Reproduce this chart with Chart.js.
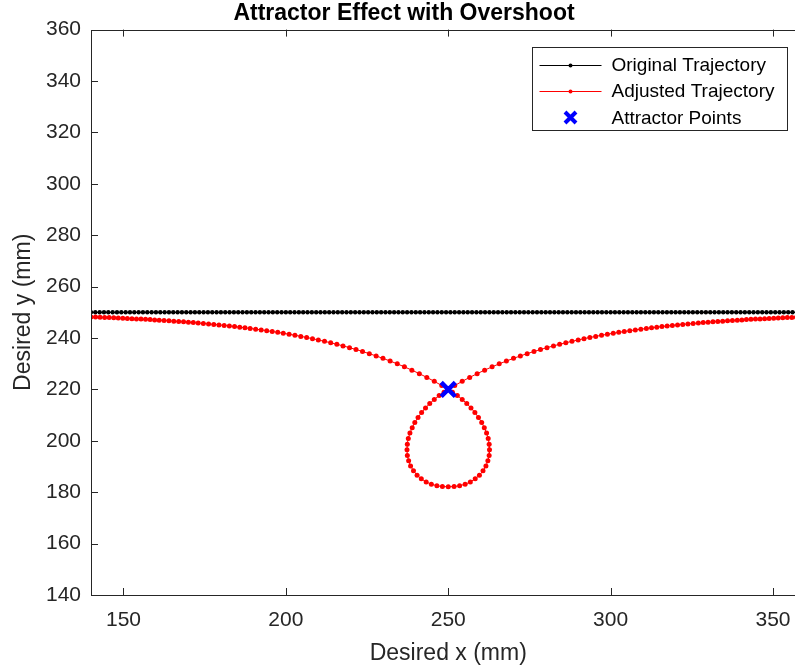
<!DOCTYPE html>
<html lang="en">
  <head>
    <meta charset="UTF-8" />
    <title>Attractor Effect with Overshoot</title>
    <script src="https://cdn.jsdelivr.net/npm/chart.js"></script>
    <style>
      body { margin: 0; overflow: hidden; background: #fff; }
      #wrap { width: 795px; height: 667px; overflow: hidden; }
    </style>
    <script>
      const FONT = "'Liberation Sans', Arial, sans-serif";
      const AXIS_COLOR = "#262626";

      const X_TICKS = [150, 200, 250, 300, 350];
      const Y_TICKS = [140, 160, 180, 200, 220, 240, 260, 280, 300, 320, 340, 360];

      // original straight path, every point sits at y = 250
      const ORIGINAL_Y = 250;
      const originalX = [
        140, 141.33, 142.67, 144, 145.33, 146.67, 148, 149.33, 150.67, 152, 153.33, 154.67,
        156, 157.33, 158.67, 160, 161.33, 162.67, 164, 165.33, 166.67, 168, 169.33, 170.67,
        172, 173.33, 174.67, 176, 177.33, 178.67, 180, 181.33, 182.67, 184, 185.33, 186.67,
        188, 189.33, 190.67, 192, 193.33, 194.67, 196, 197.33, 198.67, 200, 201.33, 202.67,
        204, 205.33, 206.67, 208, 209.33, 210.67, 212, 213.33, 214.67, 216, 217.33, 218.67,
        220, 221.33, 222.67, 224, 225.33, 226.67, 228, 229.33, 230.67, 232, 233.33, 234.67,
        236, 237.33, 238.67, 240, 241.33, 242.67, 244, 245.33, 246.67, 248, 249.33, 250.67,
        252, 253.33, 254.67, 256, 257.33, 258.67, 260, 261.33, 262.67, 264, 265.33, 266.67,
        268, 269.33, 270.67, 272, 273.33, 274.67, 276, 277.33, 278.67, 280, 281.33, 282.67,
        284, 285.33, 286.67, 288, 289.33, 290.67, 292, 293.33, 294.67, 296, 297.33, 298.67,
        300, 301.33, 302.67, 304, 305.33, 306.67, 308, 309.33, 310.67, 312, 313.33, 314.67,
        316, 317.33, 318.67, 320, 321.33, 322.67, 324, 325.33, 326.67, 328, 329.33, 330.67,
        332, 333.33, 334.67, 336, 337.33, 338.67, 340, 341.33, 342.67, 344, 345.33, 346.67,
        348, 349.33, 350.67, 352, 353.33, 354.67, 356, 357.33, 358.67, 360,
      ];

      // adjusted path: left branch, loop under the attractor, right branch
      const leftX = [
        140, 141.4, 142.8, 144.2, 145.6, 147, 148.4, 149.8, 151.2, 152.6, 154, 155.4, 156.8,
        158.2, 159.6, 161, 162.5, 164, 165.5, 167, 168.5, 170, 171.5, 173, 174.6, 176.2,
        177.8, 179.4, 181, 182.6, 184.2, 185.8, 187.4, 189, 190.7, 192.4, 194.1, 195.8,
        197.5, 199.2, 201, 202.8, 204.6, 206.4, 208.2, 210, 211.9, 213.8, 215.7, 217.6,
        219.6, 221.6, 223.6, 225.7, 227.8, 229.9, 232.1, 234.3, 236.5, 238.8, 241.1, 243.4,
        245.7, 248.0,
      ];
      const leftY = [
        248.21, 248.15, 248.08, 248.01, 247.94, 247.86, 247.78, 247.7, 247.62, 247.53, 247.44,
        247.35, 247.25, 247.15, 247.05, 246.94, 246.82, 246.69, 246.56, 246.43, 246.29,
        246.14, 245.99, 245.83, 245.66, 245.48, 245.29, 245.09, 244.89, 244.67, 244.45,
        244.22, 243.97, 243.72, 243.44, 243.15, 242.84, 242.53, 242.19, 241.85, 241.46,
        241.06, 240.63, 240.19, 239.73, 239.24, 238.7, 238.14, 237.55, 236.93, 236.24,
        235.52, 234.75, 233.91, 233.02, 232.08, 231.04, 229.94, 228.78, 227.49, 226.12,
        224.67, 223.13, 221.5,
      ];
      const loopX = [
        251.3, 252.8, 254.3, 255.7, 257.0, 258.2, 259.3, 260.3, 261.1, 261.8, 262.3, 262.6,
        262.7, 262.6, 262.2, 261.6, 260.7, 259.6, 258.3, 256.8, 255.2, 253.5, 251.8, 250.0,
        248.2, 246.5, 244.8, 243.2, 241.7, 240.4, 239.3, 238.4, 237.8, 237.4, 237.3, 237.4,
        237.7, 238.2, 238.9, 239.7, 240.7, 241.8, 243.0, 244.3, 245.7, 247.2, 248.7,
      ];
      const loopY = [
        218.9, 217.6, 216.1, 214.5, 212.8, 211.0, 209.1, 207.1, 205.1, 203.0, 200.9, 198.7,
        196.5, 194.3, 192.2, 190.2, 188.3, 186.6, 185.2, 184.0, 183.1, 182.5, 182.2, 182.1,
        182.2, 182.5, 183.1, 184.0, 185.2, 186.6, 188.3, 190.2, 192.2, 194.3, 196.5, 198.7,
        200.9, 203.0, 205.1, 207.1, 209.1, 211.0, 212.8, 214.5, 216.1, 217.6, 218.9,
      ];
      const rightX = [
        252, 254.3, 256.6, 258.9, 261.2, 263.5, 265.7, 267.9, 270.1, 272.2, 274.3, 276.4,
        278.4, 280.4, 282.4, 284.3, 286.2, 288.1, 290, 291.8, 293.6, 295.4, 297.2, 299,
        300.8, 302.5, 304.2, 305.9, 307.6, 309.3, 311, 312.6, 314.2, 315.8, 317.4, 319,
        320.6, 322.2, 323.8, 325.4, 327, 328.5, 330, 331.5, 333, 334.5, 336, 337.5, 339,
        340.4, 341.8, 343.2, 344.6, 346, 347.4, 348.8, 350.2, 351.6, 353, 354.4, 355.8,
        357.2, 358.6, 360,
      ];
      const rightY = [
        221.5, 223.13, 224.67, 226.12, 227.49, 228.78, 229.94, 231.04, 232.08, 233.02,
        233.91, 234.75, 235.52, 236.24, 236.93, 237.55, 238.14, 238.7, 239.24, 239.73,
        240.19, 240.63, 241.06, 241.46, 241.85, 242.19, 242.53, 242.84, 243.15, 243.44,
        243.72, 243.97, 244.22, 244.45, 244.67, 244.89, 245.09, 245.29, 245.48, 245.66,
        245.83, 245.99, 246.14, 246.29, 246.43, 246.56, 246.69, 246.82, 246.94, 247.05,
        247.15, 247.25, 247.35, 247.44, 247.53, 247.62, 247.7, 247.78, 247.86, 247.94,
        248.01, 248.08, 248.15, 248.21,
      ];

      const attractorX = [250];
      const attractorY = [220];

      const LEGEND_LABELS = ["Original Trajectory", "Adjusted Trajectory", "Attractor Points"];

      const toPoints = (xs, ys) => xs.map((x, i) => ({ x: x, y: ys[i] }));

      // MATLAB style box with inward ticks
      const axesBox = {
        id: "axesBox",
        afterDatasetsDraw(chart) {
          const { ctx, chartArea: a, scales } = chart;
          ctx.save();
          ctx.strokeStyle = AXIS_COLOR;
          ctx.lineWidth = 1;
          ctx.beginPath();
          X_TICKS.forEach((v) => {
            const px = Math.round(scales.x.getPixelForValue(v)) + 0.5;
            ctx.moveTo(px, a.bottom);
            ctx.lineTo(px, a.bottom - 7);
            ctx.moveTo(px, a.top);
            ctx.lineTo(px, a.top + 7);
          });
          Y_TICKS.forEach((v) => {
            const py = Math.round(scales.y.getPixelForValue(v)) + 0.5;
            ctx.moveTo(a.left, py);
            ctx.lineTo(a.left + 7, py);
            ctx.moveTo(a.right, py);
            ctx.lineTo(a.right - 7, py);
          });
          ctx.stroke();
          ctx.beginPath();
          ctx.rect(Math.round(a.left) + 0.5, Math.round(a.top) + 0.5,
            Math.round(a.right - a.left), Math.round(a.bottom - a.top));
          ctx.stroke();
          ctx.restore();
        },
      };

      const legendBox = {
        id: "legendBox",
        afterDraw(chart) {
          const { ctx, chartArea: a } = chart;
          const left = Math.round(a.right) - 274 + 0.5;
          const top = Math.round(a.top) + 17 + 0.5;
          const w = 255, h = 83;
          ctx.save();
          ctx.fillStyle = "#fff";
          ctx.fillRect(left, top, w, h);
          ctx.strokeStyle = AXIS_COLOR;
          ctx.lineWidth = 1;
          ctx.strokeRect(left, top, w, h);
          const rows = [top + 17, top + 43.5, top + 70];
          const ds = chart.data.datasets;
          ctx.font = "19px " + FONT;
          ctx.textBaseline = "middle";
          rows.forEach((ry, i) => {
            const d = ds[i];
            const mx = left + 38;
            if (d.showLine) {
              ctx.strokeStyle = d.borderColor;
              ctx.lineWidth = 1;
              ctx.beginPath();
              ctx.moveTo(left + 7, Math.round(ry) + 0.5);
              ctx.lineTo(left + 69, Math.round(ry) + 0.5);
              ctx.stroke();
              ctx.fillStyle = d.pointBackgroundColor;
              ctx.beginPath();
              ctx.arc(mx, Math.round(ry) + 0.5, 2, 0, Math.PI * 2);
              ctx.fill();
            } else {
              ctx.strokeStyle = d.pointBorderColor;
              ctx.lineWidth = 4;
              ctx.beginPath();
              ctx.moveTo(mx - 5.5, ry - 5.5);
              ctx.lineTo(mx + 5.5, ry + 5.5);
              ctx.moveTo(mx + 5.5, ry - 5.5);
              ctx.lineTo(mx - 5.5, ry + 5.5);
              ctx.stroke();
            }
            ctx.fillStyle = "#000";
            ctx.fillText(LEGEND_LABELS[i], left + 79, ry + 1);
          });
          ctx.restore();
        },
      };

      document.addEventListener("DOMContentLoaded", function () {
        const data = {
          datasets: [
            {
              label: LEGEND_LABELS[0],
              data: toPoints(originalX, originalX.map(() => ORIGINAL_Y)),
              showLine: true,
              borderColor: "#000",
              borderWidth: 1.2,
              pointRadius: 2.2,
              pointBackgroundColor: "#000",
              pointBorderWidth: 0,
              order: 3,
            },
            {
              label: LEGEND_LABELS[1],
              data: toPoints(leftX.concat(loopX, rightX), leftY.concat(loopY, rightY)),
              showLine: true,
              borderColor: "#ff0000",
              borderWidth: 1,
              pointRadius: 2.5,
              pointBackgroundColor: "#ff0000",
              pointBorderWidth: 0,
              order: 2,
            },
            {
              label: LEGEND_LABELS[2],
              data: toPoints(attractorX, attractorY),
              showLine: false,
              pointStyle: "crossRot",
              pointRadius: 10,
              pointBorderColor: "#0000ff",
              pointBorderWidth: 4.5,
              order: 1,
            },
          ],
        };

        const tickFont = { family: FONT, size: 21 };
        const config = {
          type: "scatter",
          data: data,
          options: {
            responsive: false,
            animation: false,
            layout: { padding: { left: 0, right: 12, top: 0, bottom: 0 } },
            plugins: {
              legend: { display: false },
              tooltip: { enabled: false },
              title: {
                display: true,
                text: "Attractor Effect with Overshoot",
                color: "#000",
                font: { family: FONT, size: 23, weight: "bold" },
                padding: { top: 0, bottom: 2 },
              },
            },
            scales: {
              x: {
                type: "linear",
                min: 140,
                max: 360,
                afterBuildTicks: (s) => { s.ticks = X_TICKS.map((v) => ({ value: v })); },
                afterFit: (s) => { s.height = 72; },
                grid: { display: false, drawTicks: false },
                border: { display: false },
                ticks: { color: AXIS_COLOR, font: tickFont, padding: 13, maxRotation: 0 },
                title: {
                  display: true,
                  text: "Desired x (mm)",
                  color: AXIS_COLOR,
                  font: { family: FONT, size: 23 },
                  padding: { top: 0, bottom: 0 },
                },
              },
              y: {
                type: "linear",
                min: 140,
                max: 360,
                afterBuildTicks: (s) => { s.ticks = Y_TICKS.map((v) => ({ value: v })); },
                afterFit: (s) => { s.width = 91; },
                grid: { display: false, drawTicks: false },
                border: { display: false },
                ticks: { color: AXIS_COLOR, font: tickFont, padding: 10 },
                title: {
                  display: true,
                  text: "Desired y (mm)",
                  color: AXIS_COLOR,
                  font: { family: FONT, size: 23 },
                  padding: { top: 10, bottom: 0 },
                },
              },
            },
          },
          plugins: [axesBox, legendBox],
        };

        new Chart(document.getElementById("attractor-chart"), config);
      });
    </script>
  </head>
  <body>
    <div id="wrap">
      <canvas id="attractor-chart" width="820" height="667"></canvas>
    </div>
  </body>
</html>
